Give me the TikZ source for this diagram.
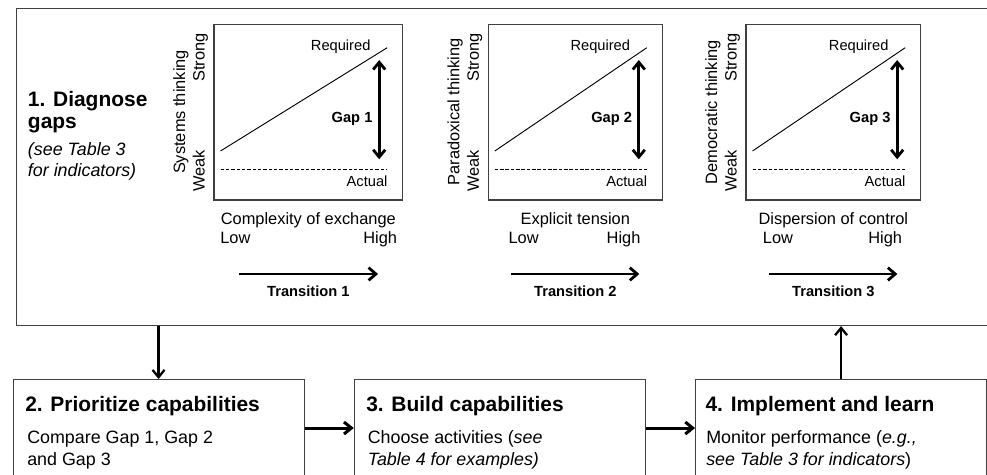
\documentclass[tikz,border=0pt]{standalone}
\usepackage{fontspec}
\setmainfont{Liberation Sans}
\usetikzlibrary{positioning,arrows.meta}

\begin{document}
\begin{tikzpicture}[x=0.75pt,y=-0.75pt,
	bigbox/.style={draw=black!75,line width=0.8pt,anchor=north west,inner sep=0pt,minimum width=729.75pt,minimum height=237.75pt},
	flowbox/.style={draw=black!75,line width=0.8pt,anchor=north west,inner sep=0pt,minimum width=218.25pt,minimum height=72.75pt},
	plotframe/.style={draw=black!75,line width=0.8pt},
	reqline/.style={line width=0.7pt},
	actline/.style={line width=0.7pt,dash pattern=on 2.6pt off 1.4pt},
	gaparrow/.style={line width=2.1pt,{Straight Barb[length=5.5pt,width=9pt]}-{Straight Barb[length=5.5pt,width=9pt]}},
	transarrow/.style={line width=2.1pt,-{Straight Barb[length=5.5pt,width=9.5pt]}},
	flowarrow/.style={line width=1.7pt,-{Straight Barb[length=5.5pt,width=9pt]}},
	steparrow/.style={line width=2.3pt,-{Straight Barb[length=5.5pt,width=9pt]}},
	steptitle/.style={font=\bfseries\fontsize{15.7}{16}\selectfont,inner sep=0pt},
	stepbody/.style={font=\fontsize{13.4}{16.3}\selectfont,inner sep=0pt,align=left},
	axislabel/.style={font=\fontsize{12.3}{14}\selectfont,inner sep=0pt},
	smalllabel/.style={font=\fontsize{11}{13}\selectfont,inner sep=0pt},
	gaplabel/.style={font=\bfseries\fontsize{11}{13}\selectfont,inner sep=0pt}]
\useasboundingbox (0,0) rectangle (987,474);

% step 1
\node[bigbox] (diag) at (16,8) {};
\node[steptitle,anchor=base west] (diagtitle) at (27.7,106.7) {1. Diagnose};
\node[steptitle,anchor=base west] (diagtitleb) at (27.7,128) {gaps};
\node[stepbody,anchor=base west] (diagnote) at (27.7,155) {\itshape (see Table 3};
\node[stepbody,anchor=base west] (diagnoteb) at (27.7,176.7) {\itshape for indicators)};

\foreach \l/\r/\ylab/\xlab/\lo/\hi/\t/\n in {214/402.7/Systems thinking/Complexity of exchange/220/397.3/69.7/1,
	488.3/662.3/Paradoxical thinking/Explicit tension/508.3/640.7/64/2,
	746/920.7/Democratic thinking/Dispersion of control/762.7/902.3/64/3}
{
	\pgfmathsetmacro\c{(\l+\r)/2}
	\draw[plotframe] (\l,24.3) rectangle (\r,200);
	\draw[reqline] (\l+6.5,151) -- (\r-15.5,47.7);
	\draw[actline] (\l+6.5,169) -- (\r-15.5,169);
	\node[smalllabel,anchor=base east] at (\r-32,50.5) {Required};
	\node[smalllabel,anchor=base east] at (\r-15,186.7) {Actual};
	\draw[gaparrow] (\r-23.5,60) -- (\r-23.5,159.3);
	\node[gaplabel,anchor=east] at (\r-30,119) {Gap \n};
	\node[axislabel,rotate=90,anchor=base] at (\l-29,112) {\ylab};
	\node[axislabel,rotate=90,anchor=base west] at (\l-9.5,191.7) {Weak};
	\node[axislabel,rotate=90,anchor=base east] at (\l-9.5,33.3) {Strong};
	\node[axislabel,anchor=base] at (\c,224) {\xlab};
	\node[axislabel,anchor=base west] at (\lo,243.3) {Low};
	\node[axislabel,anchor=base east] at (\hi,243.3) {High};
	\draw[transarrow] (\c-\t,274) -- (\c+\t,274);
	\node[gaplabel,anchor=base] at (\c,296) {Transition \n};
}

% steps 2 to 4
\node[flowbox] (prio) at (12.5,379) {};
\node[flowbox,right=36.9pt of prio] (build) {};
\node[flowbox,right=36.9pt of build] (learn) {};

\node[steptitle,anchor=base west] (priotitle) at (25,411.7) {2. Prioritize capabilities};
\node[stepbody,anchor=base west] (priobody) at (27,465) {Compare Gap 1, Gap 2\\and Gap 3};
\node[steptitle,anchor=base west] (buildtitle) at (366,411.7) {3. Build capabilities};
\node[stepbody,anchor=base west] (buildbody) at (367.5,465) {Choose activities (\textit{see}\\\textit{Table 4 for examples)}};
\node[steptitle,anchor=base west] (learntitle) at (705.3,411.7) {4. Implement and learn};
\node[stepbody,anchor=base west] (learnbody) at (706,465) {Monitor performance (\textit{e.g.,}\\\textit{see Table 3 for indicators})};

\draw[flowarrow] (diag.south -| prio.north) -- (prio.north);
\draw[flowarrow] (learn.north) -- (learn.north |- diag.south);
\draw[steparrow] (prio.east) -- (build.west);
\draw[steparrow] (build.east) -- (learn.west);

\end{tikzpicture}
\end{document}
